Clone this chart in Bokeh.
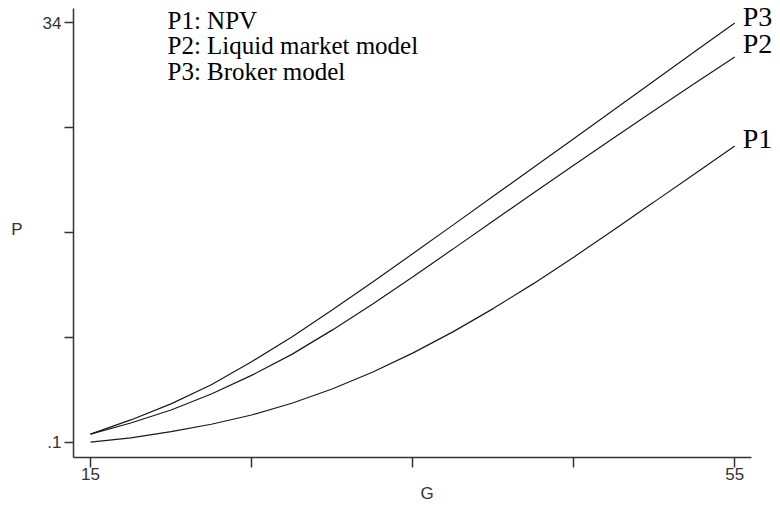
from bokeh.plotting import figure
from bokeh.models import Range1d, FixedTicker, Label
from bokeh.embed import file_html
from bokeh.resources import INLINE

# ---- data ----
g = [15, 17.5, 20, 22.5, 25, 27.5, 30, 32.5, 35, 37.5, 40, 42.5, 45, 47.5, 50, 52.5, 55]
p1 = [0.1, 0.45, 0.95, 1.55, 2.3, 3.25, 4.4, 5.75, 7.3, 9.02, 10.9, 12.92, 15.06,
      17.28, 19.53, 21.79, 24.05]
p2 = [0.75, 1.65, 2.7, 4.0, 5.5, 7.2, 9.16, 11.26, 13.46, 15.71, 17.98, 20.25, 22.5,
      24.72, 26.92, 29.09, 31.25]
p3 = [0.75, 1.9, 3.2, 4.75, 6.6, 8.6, 10.78, 13.03, 15.33, 17.65, 19.98, 22.31, 24.64,
      26.98, 29.32, 31.66, 34.0]
series_names = ["P1", "P2", "P3"]
legend_lines = ["P1: NPV", "P2: Liquid market model", "P3: Broker model"]
x_ticks = [15, 25, 35, 45, 55]
x_tick_labels = ["15", "", "", "", "55"]
y_ticks = [0.1, 8.575, 17.05, 25.525, 34]
y_tick_labels = [".1", "", "", "", "34"]
x_title = "G"
y_title = "P"

AX = "#333333"
SANS = "Liberation Sans"
SERIF = "Liberation Serif"

X_AXIS_END = 56.04
Y_AXIS_START, Y_AXIS_END = -1.137, 35.16

p = figure(width=780, height=507, output_backend="svg", toolbar_location=None,
           x_range=Range1d(13.945, 57.84), y_range=Range1d(Y_AXIS_START, 35.81),
           min_border_left=73, min_border_right=0, min_border_top=0,
           min_border_bottom=50)
p.outline_line_color = None
p.grid.visible = False
p.background_fill_color = "white"
p.border_fill_color = "white"

for ax in (p.xaxis[0], p.yaxis[0]):
    ax.axis_line_color = AX
    ax.axis_line_width = 1.5
    ax.major_tick_line_color = AX
    ax.major_tick_line_width = 1.5
    ax.minor_tick_line_color = None
    ax.major_tick_in = 0
    ax.major_label_text_font = SANS
    ax.major_label_text_font_size = "17px"
    ax.major_label_text_color = AX
    ax.axis_label_text_font = SANS
    ax.axis_label_text_font_size = "17px"
    ax.axis_label_text_font_style = "normal"
    ax.axis_label_text_color = AX

p.xaxis.bounds = (13.945, X_AXIS_END)
p.xaxis.ticker = FixedTicker(ticks=x_ticks)
p.xaxis.major_label_overrides = dict(zip(x_ticks, x_tick_labels))
p.xaxis.major_tick_out = 10
p.xaxis.major_label_standoff = 0
p.xaxis.axis_label = x_title
p.xaxis.axis_label_standoff = 1

p.yaxis.bounds = (Y_AXIS_START, Y_AXIS_END)
p.yaxis.ticker = FixedTicker(ticks=y_ticks)
p.yaxis.major_label_overrides = dict(zip(y_ticks, y_tick_labels))
p.yaxis.major_tick_out = 9
p.yaxis.major_label_standoff = 3
p.yaxis.axis_label = y_title
p.yaxis.axis_label_orientation = "horizontal"
p.yaxis.axis_label_standoff = 17

for ys in (p1, p2, p3):
    p.line(g, ys, line_color="#1a1a1a", line_width=1.2)

# end labels
offsets = [7, 13, 6]
for name, ys, dy in zip(series_names, (p1, p2, p3), offsets):
    p.add_layout(Label(x=g[-1], y=ys[-1], x_offset=8, y_offset=dy, text=name,
                       text_font=SERIF, text_font_size="28px", text_color="black",
                       text_baseline="alphabetic", text_align="left"))

# legend text
for i, t in enumerate(legend_lines):
    p.add_layout(Label(x=94, y=437.5 - 25.5 * i, x_units="screen", y_units="screen",
                       text=t, text_font=SERIF, text_font_size="25px",
                       text_color="black", text_baseline="alphabetic",
                       text_align="left"))

open("out.html", "w").write(file_html(p, INLINE))
